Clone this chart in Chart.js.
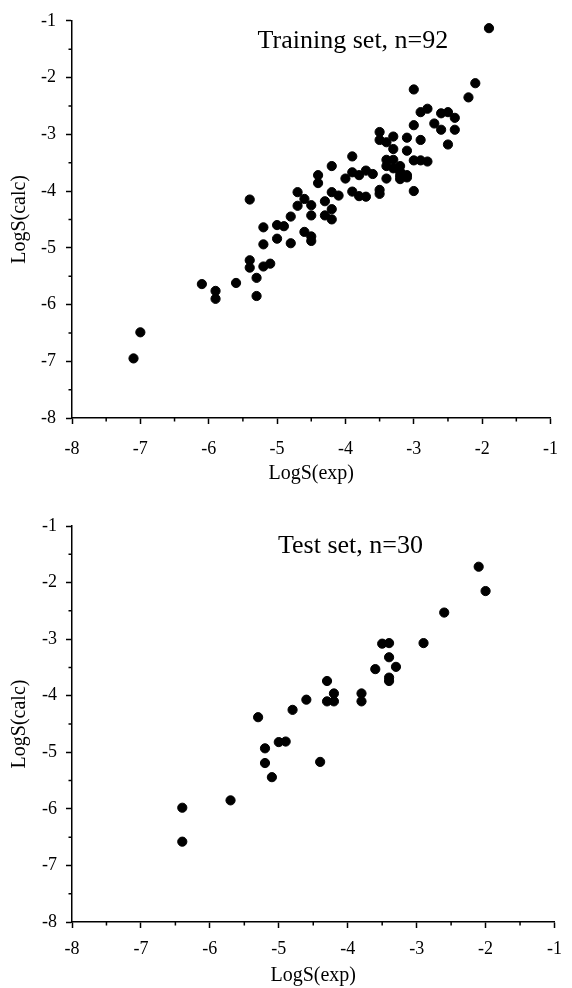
<!DOCTYPE html>
<html><head><meta charset="utf-8"><title>LogS calc vs exp</title>
<script src="https://cdn.jsdelivr.net/npm/chart.js"></script>
<style>
body{margin:0;background:#fff;}
#wrap{position:relative;width:572px;height:988px;}
canvas{position:absolute;left:0;}
</style></head>
<body>
<div id="wrap">
  <canvas id="train" width="572" height="494" style="top:0"></canvas>
  <canvas id="test" width="572" height="494" style="top:494px"></canvas>
</div>
<script>
// ==================== DATA ====================
const trainExp = [-7.1,-7.0,-6.1,-5.9,-5.9,-5.6,-5.4,-5.4,-5.3,-5.3,-5.2,-5.1,-5.2,-5.2,-5.0,-5.0,-4.9,-4.8,-4.8,-5.4,
  -4.6,-4.5,-4.5,-4.5,-4.7,-4.6,-4.5,-4.7,-4.3,-4.2,-4.2,-4.3,-4.2,-4.1,-4.4,-4.4,-4.2,-3.9,-4.0,-3.9,
  -3.8,-3.7,-3.6,-3.9,-3.8,-3.7,-3.5,-3.5,-3.4,-3.3,-3.3,-3.4,-3.3,-3.4,-3.2,-3.2,-3.1,-3.2,-3.1,-3.4,
  -3.5,-3.5,-3.0,-2.9,-2.8,-2.6,-2.5,-2.4,-2.7,-2.6,-2.4,-2.5,-3.0,-2.9,-3.1,-3.1,-3.0,-2.9,-2.8,-3.0,
  -2.1,-2.2,-1.9,-3.2,-3.3];
const trainCalc = [-6.95,-6.49,-5.64,-5.76,-5.90,-5.62,-5.22,-5.35,-5.53,-5.85,-5.33,-5.28,-4.94,-4.64,-4.84,-4.60,-4.62,-4.45,-4.92,-4.15,
  -4.72,-4.80,-4.88,-4.43,-4.02,-4.14,-4.25,-4.26,-4.43,-4.50,-4.32,-4.18,-4.02,-4.08,-3.72,-3.86,-3.56,-3.39,-3.78,-3.67,
  -3.72,-3.64,-3.70,-4.01,-4.09,-4.10,-2.96,-3.10,-3.14,-3.04,-3.26,-3.45,-3.45,-3.56,-3.56,-3.73,-3.72,-3.79,-3.76,-3.78,
  -3.98,-4.05,-2.21,-2.61,-2.55,-2.63,-2.61,-2.71,-2.81,-2.92,-2.92,-3.18,-2.84,-3.10,-3.06,-3.29,-3.46,-3.46,-3.48,-4.00,
  -2.10,-2.35,-1.13,-3.66,-3.60];

const testExp = [-2.1,-2.0,-2.6,-2.9,-3.5,-3.4,-3.4,-3.3,-3.6,-3.4,-3.4,-4.3,-4.2,-4.3,-4.2,-3.8,-3.8,-4.6,-4.8,-5.3,
  -5.2,-5.2,-5.1,-5.0,-4.9,-5.7,-6.4,-6.4,-4.4];
const testCalc = [-1.72,-2.15,-2.53,-3.07,-3.08,-3.07,-3.32,-3.49,-3.53,-3.68,-3.74,-3.74,-3.96,-4.10,-4.10,-3.96,-4.10,-4.07,-4.25,-4.38,
  -4.93,-5.19,-5.44,-4.82,-4.81,-5.85,-5.98,-6.58,-5.17];

const AXIS_MIN = -8, AXIS_MAX = -1;
const SERIF = "'Liberation Serif', 'Times New Roman', serif";

// minor ticks at the half units + set label text
const extras = {
  id: 'extras',
  afterDraw(chart, args, opts) {
    const ctx = chart.ctx, xs = chart.scales.x, ys = chart.scales.y;
    ctx.save();
    ctx.strokeStyle = '#000';
    ctx.lineWidth = 1.5;
    ctx.beginPath();
    for (let v = AXIS_MIN + 0.5; v < AXIS_MAX; v += 1) {
      const px = xs.getPixelForValue(v);
      ctx.moveTo(px, xs.top); ctx.lineTo(px, xs.top + 3.5);
      const py = ys.getPixelForValue(v);
      ctx.moveTo(ys.right, py); ctx.lineTo(ys.right - 3.5, py);
    }
    ctx.stroke();
    ctx.fillStyle = '#000';
    ctx.font = '26px ' + SERIF;
    ctx.textAlign = 'center';
    ctx.textBaseline = 'middle';
    ctx.fillText(opts.text, xs.getPixelForValue(opts.x), ys.getPixelForValue(opts.y));
    ctx.restore();
  }
};

function makeChart(id, exp, calc, note, pad, xHeight, tickPad, yTickPad, titlePad) {
  const pts = exp.map((x, i) => ({ x, y: calc[i] }));
  return new Chart(document.getElementById(id), {
    type: 'scatter',
    data: { datasets: [{ data: pts, backgroundColor: '#000', borderColor: '#000', pointRadius: 4.6, pointHoverRadius: 4.6 }] },
    plugins: [extras],
    options: {
      responsive: false,
      animation: false,
      layout: { padding: pad },
      plugins: { legend: { display: false }, tooltip: { enabled: false }, extras: note },
      scales: {
        x: {
          type: 'linear', min: AXIS_MIN, max: AXIS_MAX,
          afterFit: s => { s.height = xHeight; },
          border: { display: true, color: '#000', width: 1.5 },
          grid: { drawOnChartArea: false, drawTicks: true, tickLength: 6, color: '#000', tickWidth: 1.5 },
          ticks: { stepSize: 1, color: '#000', padding: tickPad, font: { family: SERIF, size: 18 } },
          title: { display: true, text: 'LogS(exp)', color: '#000', padding: { top: 0, bottom: titlePad }, font: { family: SERIF, size: 20 } }
        },
        y: {
          type: 'linear', min: AXIS_MIN, max: AXIS_MAX,
          afterFit: s => { s.width = 72; },
          border: { display: true, color: '#000', width: 1.5 },
          grid: { drawOnChartArea: false, drawTicks: true, tickLength: 6, color: '#000', tickWidth: 1.5 },
          ticks: { stepSize: 1, color: '#000', padding: yTickPad, font: { family: SERIF, size: 18 } },
          title: { display: true, text: 'LogS(calc)', color: '#000', padding: { top: 8, bottom: 0 }, font: { family: SERIF, size: 20 } }
        }
      }
    }
  });
}

makeChart('train', trainExp, trainCalc, { text: 'Training set, n=92', x: -3.89, y: -1.36 },
  { top: 19, right: 9, left: 0, bottom: 0 }, 76, 14, 10, 8);
makeChart('test', testExp, testCalc, { text: 'Test set, n=30', x: -3.96, y: -1.36 },
  { top: 32, right: 14, left: 0, bottom: 0 }, 66, 10, 9, 0);
</script>
</body></html>
